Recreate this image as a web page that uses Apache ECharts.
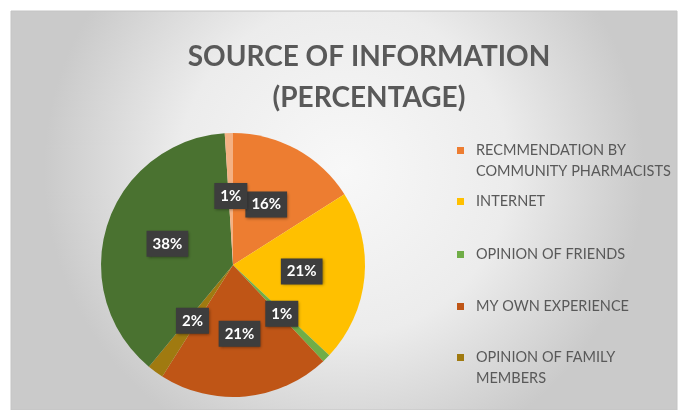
<!DOCTYPE html>
<html>
<head>
<meta charset="utf-8">
<script src="https://cdn.jsdelivr.net/npm/echarts@6/dist/echarts.min.js"></script>
<style>html,body{margin:0;padding:0;background:#fff;}#c{width:681px;height:410px;}</style>
</head>
<body>
<div id="c"></div>
<script>
var titleLines = ['SOURCE OF INFORMATION', '(PERCENTAGE)'];
var categories = ['RECMMENDATION BY\nCOMMUNITY PHARMACISTS', 'INTERNET', 'OPINION OF FRIENDS', 'MY OWN EXPERIENCE', 'OPINION OF FAMILY\nMEMBERS', 'OTHERS', 'NOT SPECIFIED'];
var values = [16, 21, 1, 21, 2, 38, 1];
var colors = ['#ED7D31', '#FFC000', '#70AD47', '#BF5516', '#A07A10', '#4A7230', '#F4B183'];
var legendShown = [0, 1, 2, 3, 4];
var legendTops = [135, 186, 239, 291, 342];

var chart = echarts.init(document.getElementById('c'), null, {renderer: 'canvas'});
var data = categories.map(function (n, i) {
  return {name: n, value: values[i], itemStyle: {color: colors[i]}};
});
var twoLineIcon = 'path://M0,0h0.01v0.01h-0.01z M0,0h7v7h-7z M0,28h0.01v0.01h-0.01z';
var legends = legendShown.map(function (idx, k) {
  var two = categories[idx].indexOf('\n') >= 0;
  return {
    show: true,
    data: [categories[idx]],
    left: 452,
    top: legendTops[k],
    orient: 'vertical',
    icon: two ? twoLineIcon : 'rect',
    itemWidth: 7,
    itemHeight: two ? 28 : 7,
    selectedMode: false,
    textStyle: {fontFamily: 'Lato', fontSize: 14.5, color: '#595959', lineHeight: 21, padding: [0, 0, 0, 7]}
  };
});
chart.setOption({
  animation: false,
  backgroundColor: '#ffffff',
  graphic: [{
    type: 'rect',
    z: -10,
    shape: {x: 11, y: 11, width: 666, height: 399},
    style: {
      fill: {type: 'radial', x: 0.5, y: 0.4, r: 0.75, colorStops: [
        {offset: 0, color: '#f8f8f8'}, {offset: 0.55, color: '#ececec'}, {offset: 1, color: '#cacaca'}]},
      stroke: '#c4c4c4', lineWidth: 1
    }
  }],
  title: {
    text: titleLines.join('\n'),
    left: 364, top: 31, textAlign: 'center',
    textStyle: {fontFamily: 'Lato', fontWeight: 'bold', fontSize: 28, color: '#595959', lineHeight: 41}
  },
  legend: legends,
  series: [{
    type: 'pie',
    center: [233, 265],
    radius: 132,
    startAngle: 90,
    clockwise: true,
    avoidLabelOverlap: false,
    labelLayout: {hideOverlap: false},
    itemStyle: {borderWidth: 0},
    label: {
      show: true,
      position: 'inside',
      formatter: '{c}%',
      fontFamily: 'Lato', fontWeight: 'bold', fontSize: 15, color: '#ffffff',
      backgroundColor: '#3d3d3d', padding: [6, 6, 5, 6],
      shadowBlur: 3, shadowColor: 'rgba(0,0,0,0.45)', shadowOffsetX: 1, shadowOffsetY: 1
    },
    labelLine: {show: false},
    emphasis: {disabled: true},
    data: data
  }]
});
</script>
</body>
</html>
